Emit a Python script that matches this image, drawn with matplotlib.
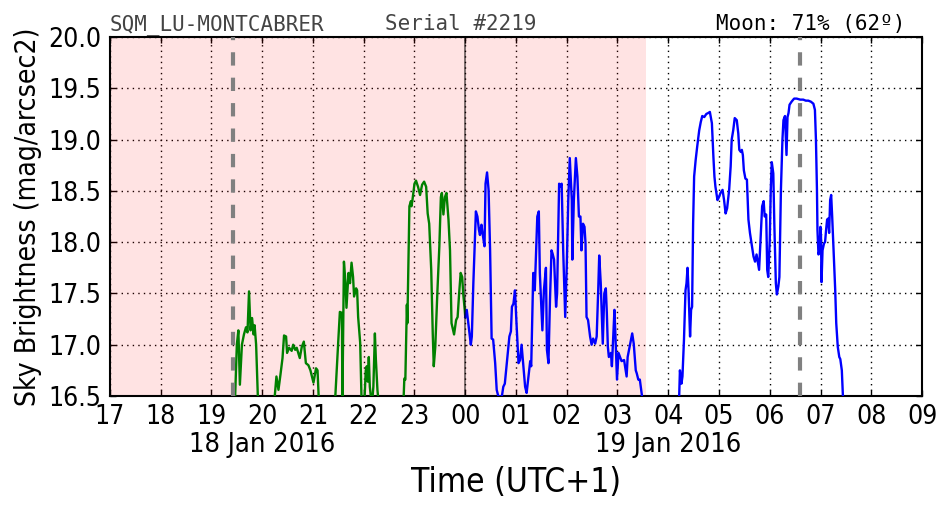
import numpy as np
import matplotlib
matplotlib.use("Agg")
import matplotlib.pyplot as plt

# ---- data (hours since 18 Jan 2016 00:00, UTC+1) ----
green_t = [19.46, 19.50, 19.53, 19.56, 19.60, 19.64, 19.68, 19.71, 19.74, 19.77, 19.80, 19.83, 19.85, 19.88, 19.92,
           20.23, 20.28, 20.32, 20.36, 20.40, 20.43, 20.47, 20.49, 20.53, 20.58, 20.61, 20.65, 20.68, 20.71, 20.74,
           20.78, 20.82, 20.86, 20.91, 20.95, 21.01, 21.06, 21.09, 21.12,
           21.43, 21.50, 21.53, 21.57, 21.58, 21.61, 21.64, 21.66, 21.70, 21.73, 21.76, 21.79, 21.81, 21.85, 21.87,
           21.89, 21.93, 21.96,
           22.01, 22.04, 22.06, 22.08, 22.10, 22.12, 22.16, 22.19, 22.22, 22.24, 22.27, 22.30,
           22.78, 22.80, 22.82, 22.85, 22.86, 22.90, 22.93, 22.94, 22.96, 23.00, 23.03, 23.07, 23.11, 23.15, 23.19,
           23.23, 23.26, 23.29, 23.33, 23.36, 23.38, 23.41, 23.45, 23.49, 23.52, 23.54, 23.57, 23.60, 23.63, 23.67,
           23.70, 23.73, 23.78, 23.82, 23.85, 23.88, 23.91, 23.94, 23.96, 23.99, 24.00]
green_m = [16.40, 17.00, 17.14, 16.61, 17.00, 17.10, 17.17, 17.12, 17.52, 17.14, 17.26, 17.10, 17.19, 17.00, 16.40,
           16.40, 16.69, 16.56, 16.71, 16.87, 17.09, 17.08, 16.92, 16.97, 16.94, 17.00, 16.95, 16.97, 16.92, 16.87,
           16.98, 17.03, 16.82, 16.80, 16.75, 16.63, 16.77, 16.75, 16.40,
           16.40, 17.05, 17.32, 17.31, 16.45, 17.81, 17.61, 17.36, 17.70, 17.60, 17.80, 17.66, 17.47, 17.55, 17.53,
           17.27, 17.02, 16.40,
           16.40, 16.75, 16.79, 16.64, 16.88, 16.59, 16.40, 16.59, 17.11, 16.85, 16.56, 16.40,
           16.40, 16.67, 16.66, 17.39, 17.21, 18.35, 18.40, 18.35, 18.41, 18.57, 18.60, 18.54, 18.46, 18.56, 18.59,
           18.54, 18.28, 18.18, 17.73, 17.11, 16.79, 16.98, 17.50, 17.96, 18.44, 18.48, 18.27, 18.44, 18.48, 18.22,
           17.92, 17.21, 17.10, 17.24, 17.27, 17.50, 17.70, 17.66, 17.50, 17.34, 17.27]

blue_t = [24.00, 24.03, 24.06, 24.11, 24.13, 24.16, 24.21, 24.24, 24.27, 24.29, 24.32, 24.34, 24.38, 24.40, 24.43,
          24.46, 24.49, 24.52, 24.55, 24.59, 24.62, 24.65, 24.72, 24.75, 24.78, 24.82, 24.87, 24.90, 24.92, 24.95,
          24.98, 25.01, 25.05, 25.08, 25.11, 25.14, 25.18, 25.21, 25.24, 25.28, 25.30, 25.32, 25.34, 25.37, 25.42,
          25.45, 25.47, 25.52, 25.55, 25.59, 25.61, 25.64, 25.67, 25.70, 25.72, 25.75, 25.79, 25.81, 25.85, 25.87,
          25.90, 25.93, 25.97, 26.00, 26.03, 26.06, 26.10, 26.11, 26.14, 26.18, 26.21, 26.24, 26.27, 26.29, 26.32,
          26.35, 26.37, 26.39, 26.42, 26.46, 26.49, 26.52, 26.56, 26.59, 26.62, 26.64, 26.67, 26.71, 26.74, 26.77,
          26.79, 26.81, 26.83, 26.87, 26.89, 26.92, 26.94, 26.96, 26.99, 27.02, 27.05, 27.08, 27.13, 27.16, 27.18,
          27.20, 27.25, 27.29, 27.32, 27.36, 27.38, 27.41, 27.44, 27.48, 27.50,
          28.21, 28.23, 28.26, 28.28, 28.31, 28.34, 28.36, 28.38, 28.40, 28.43, 28.45, 28.47, 28.49, 28.51, 28.54,
          28.57, 28.61, 28.64, 28.67, 28.71, 28.75, 28.79, 28.82, 28.86, 28.89, 28.91, 28.93, 28.97, 29.00, 29.03,
          29.07, 29.10, 29.13, 29.16, 29.20, 29.23, 29.25, 29.28, 29.31, 29.35, 29.38, 29.40, 29.43, 29.45, 29.47,
          29.49, 29.52, 29.55, 29.58, 29.61, 29.64, 29.68, 29.71, 29.74, 29.77, 29.79, 29.82, 29.85, 29.88, 29.90,
          29.93, 29.95, 29.97, 30.00, 30.02, 30.04, 30.07, 30.09, 30.12, 30.14, 30.17, 30.19, 30.22, 30.25, 30.27,
          30.30, 30.33, 30.35, 30.37, 30.39, 30.43, 30.48, 30.53, 30.60, 30.66, 30.71, 30.76, 30.81, 30.86, 30.89,
          30.91, 30.93, 30.94, 30.96, 30.98, 31.00, 31.01, 31.02, 31.04, 31.07, 31.09, 31.11, 31.13, 31.15, 31.17,
          31.19, 31.21, 31.23, 31.26, 31.29, 31.31, 31.34, 31.37, 31.39, 31.42, 31.44, 31.45]
blue_m = [17.27, 17.34, 17.21, 17.00, 17.08, 17.60, 18.30, 18.25, 18.12, 18.07, 18.17, 18.09, 17.96, 18.57, 18.68,
          18.51, 17.92, 17.06, 17.05, 16.82, 16.56, 16.50, 16.49, 16.59, 16.62, 16.82, 17.08, 17.13, 17.37, 17.40,
          17.53, 17.21, 16.82, 16.85, 17.00, 16.82, 16.59, 16.53, 16.66, 16.84, 16.79, 17.24, 17.70, 17.53, 18.25,
          18.30, 17.70, 17.14, 17.53, 17.75, 16.95, 16.82, 17.44, 17.92, 17.89, 17.83, 17.37, 17.50, 18.57, 18.54,
          18.57, 17.92, 17.27, 17.76, 18.41, 18.82, 18.41, 17.83, 18.41, 18.82, 18.64, 18.25, 18.25, 17.92, 18.18,
          18.15, 17.99, 17.27, 17.24, 17.08, 17.00, 17.06, 17.01, 17.08, 17.53, 17.87, 17.60, 17.01, 17.50, 17.55,
          17.31, 16.98, 16.88, 16.92, 16.79, 17.11, 17.34, 17.08, 16.66, 16.92, 16.88, 16.84, 16.85, 16.75, 16.69,
          16.88, 17.01, 17.11, 17.01, 16.75, 16.72, 16.66, 16.66, 16.51, 16.40,
          16.40, 16.75, 16.62, 16.69, 17.05, 17.53, 17.60, 17.75, 17.53, 17.08, 17.34, 17.37, 18.18, 18.64, 18.80,
          18.93, 19.09, 19.17, 19.23, 19.22, 19.25, 19.26, 19.27, 19.16, 18.83, 18.64, 18.54, 18.41, 18.44, 18.48,
          18.51, 18.41, 18.28, 18.33, 18.51, 18.74, 19.00, 19.09, 19.21, 19.19, 19.06, 18.90, 18.88, 18.90, 18.85,
          18.70, 18.62, 18.61, 18.22, 18.09, 17.99, 17.86, 17.81, 17.88, 17.79, 17.73, 18.05, 18.35, 18.40, 18.25,
          18.27, 17.73, 17.66, 18.02, 18.51, 18.78, 18.67, 18.18, 17.60, 17.49, 17.57, 17.66, 18.51, 19.00, 19.19,
          19.23, 18.85, 19.22, 19.26, 19.34, 19.37, 19.40, 19.40, 19.39, 19.39, 19.38, 19.38, 19.37, 19.35, 19.29,
          19.00, 18.51, 18.12, 17.88, 17.92, 18.15, 18.05, 17.61, 17.92, 17.99, 18.00, 18.12, 18.22, 18.23, 18.09,
          18.41, 18.46, 18.25, 17.89, 17.53, 17.21, 16.98, 16.88, 16.86, 16.75, 16.51, 16.40]

x_ticks = list(range(17, 34))
x_tick_labels = ["17", "18", "19", "20", "21", "22", "23", "00", "01", "02", "03",
                 "04", "05", "06", "07", "08", "09"]
y_ticks = [16.5, 17.0, 17.5, 18.0, 18.5, 19.0, 19.5, 20.0]
date_labels = ["18 Jan 2016", "19 Jan 2016"]
date_pos = [20, 28]
twilight_span = (17, 27.56)
moon_lines = [19.42, 30.6]
midnight = 24

plt.rcParams['font.family'] = ['DejaVu Sans']

fig = plt.figure(figsize=(9.52, 5.12), dpi=100)
ax = fig.add_axes([0.1155, 0.2266, 0.853, 0.701])

ax.axvspan(*twilight_span, color='red', alpha=0.11, lw=0)
ax.grid(True, color='black', linestyle=(0, (1, 3)), linewidth=1.0)
ax.set_axisbelow(True)

ax.plot(green_t, green_m, color='green', lw=1.7, zorder=3)
ax.plot(blue_t, blue_m, color='blue', lw=1.7, zorder=3)

for m in moon_lines:
    ax.axvline(m, color='gray', lw=3, dashes=(3.2, 2.9), zorder=4)
ax.axvline(midnight, color='black', lw=1.2, alpha=0.6, zorder=4)

ax.set_xlim(17, 33)
ax.set_ylim(16.5, 20.0)
ax.set_xticks(x_ticks)
ax.set_xticklabels(x_tick_labels, fontsize=19, fontstretch='condensed')
ax.set_yticks(y_ticks)
ax.set_yticklabels([f"{v:.1f}" for v in y_ticks], fontsize=19, fontstretch='condensed')
ax.tick_params(direction='in', top=True, right=True, length=4, width=1, pad=6)
for s in ax.spines.values():
    s.set_linewidth(1.5)

for lbl, pos in zip(date_labels, date_pos):
    ax.text(pos, -0.137, lbl, transform=ax.get_xaxis_transform(), ha='center', va='center',
            fontsize=19.5, fontstretch='condensed')

ax.set_xlabel("Time (UTC+1)", fontsize=24, fontstretch='condensed')
ax.xaxis.set_label_coords(0.5, -0.24)
ax.xaxis.label.set_va('center')
ax.set_ylabel("Sky Brightness (mag/arcsec2)", fontsize=20.3, fontstretch='condensed')
ax.yaxis.set_label_coords(-0.1015, 0.5)
ax.yaxis.label.set_va('center')

fig.text(0.1155, 0.9415, "SQM_LU-MONTCABRER", family='DejaVu Sans Mono', fontsize=15,
         color='#444444', va='baseline', ha='left')
fig.text(0.404, 0.9415, "Serial #2219", family='DejaVu Sans Mono', fontsize=15,
         color='#444444', va='baseline', ha='left')
fig.text(0.951, 0.9415, "Moon: 71% (62º)", family='DejaVu Sans Mono', fontsize=15,
         color='black', va='baseline', ha='right')

fig.savefig("out.png", dpi=100)
